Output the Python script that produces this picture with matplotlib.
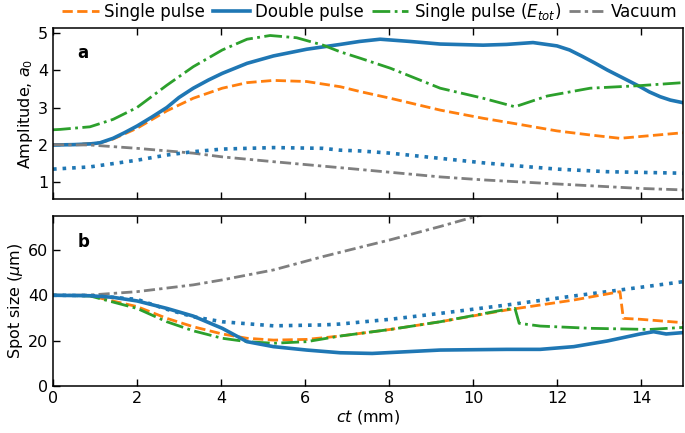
import matplotlib
matplotlib.use('Agg')
import matplotlib.pyplot as plt

# ---- panel a: amplitude a0 vs ct (mm) ----
x_dbl_a = [0, 0.5, 0.9, 1.12, 1.43, 1.7, 2.0, 2.35, 2.71, 3.0, 3.34, 3.7, 4.03, 4.62, 5.25,
           6.04, 6.84, 7.3, 7.79, 8.5, 9.22, 10.24, 10.8, 11.43, 12.0, 12.3, 12.6, 12.9,
           13.2, 13.6, 13.98, 14.2, 14.46, 14.7, 15.0]
y_dbl_a = [1.99, 2.0, 2.02, 2.05, 2.17, 2.32, 2.5, 2.74, 3.0, 3.27, 3.52, 3.74, 3.92, 4.19,
           4.39, 4.57, 4.70, 4.78, 4.84, 4.78, 4.71, 4.68, 4.70, 4.75, 4.66, 4.55, 4.38,
           4.2, 4.01, 3.78, 3.56, 3.42, 3.29, 3.2, 3.13]

x_sgl_a = [0, 0.5, 1.12, 1.43, 2.0, 2.71, 3.34, 4.03, 4.62, 5.25, 6.04, 6.84, 7.31,
           8.03, 9.22, 10.24, 11.03, 12.0, 12.79, 13.5, 15.0]
y_sgl_a = [2.0, 2.0, 2.05, 2.15, 2.44, 2.91, 3.25, 3.52, 3.67, 3.73, 3.70, 3.56, 3.43,
           3.25, 2.93, 2.71, 2.56, 2.37, 2.26, 2.17, 2.32]

x_etot_a = [0, 0.17, 0.88, 1.43, 2.0, 2.71, 3.34, 4.03, 4.62, 5.17, 5.8, 6.43, 6.84, 7.31,
            8.03, 9.22, 10.24, 11.0, 11.77, 12.79, 13.98, 15.0]
y_etot_a = [2.4, 2.41, 2.48, 2.68, 3.0, 3.6, 4.1, 4.55, 4.84, 4.94, 4.88, 4.68, 4.5, 4.33,
            4.06, 3.52, 3.25, 3.02, 3.31, 3.52, 3.59, 3.67]

x_dot_a = [0, 0.88, 2.0, 2.71, 3.34, 4.03, 5.25, 6.43, 6.84, 7.31, 8.03, 9.22, 10.24,
           11.03, 12.0, 13.2, 15.0]
y_dot_a = [1.34, 1.40, 1.58, 1.72, 1.81, 1.88, 1.92, 1.90, 1.85, 1.83, 1.77, 1.63, 1.51,
           1.43, 1.34, 1.27, 1.23]

x_vac_a = [0, 0.88, 2.0, 3.34, 4.03, 5.25, 6.43, 7.31, 9.22, 10.24, 12.0, 13.98, 15.0]
y_vac_a = [2.0, 1.99, 1.90, 1.77, 1.67, 1.54, 1.42, 1.33, 1.13, 1.05, 0.94, 0.82, 0.78]

# ---- panel b: spot size (um) vs ct (mm) ----
x_dbl_b = [0, 0.88, 1.43, 2.0, 2.71, 3.34, 4.03, 4.62, 5.25, 6.04, 6.84, 7.6, 9.22,
           10.8, 11.6, 12.4, 13.2, 13.98, 14.3, 14.6, 15.0]
y_dbl_b = [40, 39.8, 39.1, 37.5, 34.2, 30.8, 25.4, 19.5, 17.3, 15.8, 14.6, 14.3, 15.8,
           16.1, 16.1, 17.3, 19.8, 22.9, 23.9, 22.9, 23.5]

x_sgl_b = [0, 0.88, 2.0, 2.71, 3.34, 4.03, 4.62, 5.25, 6.04, 6.84, 8.03, 9.22, 10.8,
           12.4, 13.5, 13.58, 13.98, 15.0]
y_sgl_b = [40, 39.8, 35.0, 29.8, 26.1, 22.9, 21.0, 20.2, 20.5, 22.0, 24.9, 28.3, 33.5,
           37.9, 41.6, 29.8, 29.4, 27.9]

x_etot_b = [0, 0.88, 2.0, 2.71, 3.34, 4.03, 4.62, 5.25, 6.04, 6.84, 8.03, 9.22, 10.8,
            11.0, 11.1, 11.6, 12.8, 14.2, 15.0]
y_etot_b = [40, 39.7, 34.2, 28.3, 24.3, 21.0, 19.5, 18.8, 19.5, 22.0, 24.9, 28.3, 33.8,
            34.2, 27.6, 26.4, 25.4, 24.9, 25.8]

x_dot_b = [0, 0.88, 2.0, 2.71, 3.34, 4.03, 5.25, 6.43, 6.84, 8.03, 9.22, 10.8, 12.4,
           13.98, 15.0]
y_dot_b = [40, 39.9, 38.2, 33.8, 30.5, 28.3, 26.5, 26.9, 27.3, 29.4, 32.0, 35.7, 39.7,
           43.5, 46.0]

x_vac_b = [0, 0.88, 2.0, 3.34, 4.03, 5.25, 6.43, 7.31, 8.03, 9.22, 10.0, 10.5]
y_vac_b = [40, 40.1, 41.6, 44.6, 46.8, 51.2, 57.1, 61.2, 64.5, 70.4, 74.5, 77.0]

xticks = [0, 2, 4, 6, 8, 10, 12, 14]

c_orange = 'tab:orange'
c_blue = 'tab:blue'
c_green = 'tab:green'
c_gray = '#7f7f7f'
vac_dash = (0, (4, 1.5, 1.2, 1.5))

plt.rcParams['font.size'] = 11.5

fig = plt.figure(figsize=(6.85, 4.33), dpi=100)
ax1 = fig.add_axes([0.0774, 0.540, 0.9196, 0.396])
ax2 = fig.add_axes([0.0774, 0.109, 0.9196, 0.392])

l1, = ax1.plot(x_sgl_a, y_sgl_a, color=c_orange, ls='--', lw=2, label='Single pulse')
l2, = ax1.plot(x_dbl_a, y_dbl_a, color=c_blue, ls='-', lw=2.6, label='Double pulse')
l3, = ax1.plot(x_etot_a, y_etot_a, color=c_green, ls='-.', lw=2, label='Single pulse ($E_{tot}$)')
l4, = ax1.plot(x_vac_a, y_vac_a, color=c_gray, ls=vac_dash, lw=2, label='Vacuum')
ax1.plot(x_dot_a, y_dot_a, color=c_blue, ls=':', lw=2.6)

ax2.plot(x_vac_b, y_vac_b, color=c_gray, ls=vac_dash, lw=2)
ax2.plot(x_dot_b, y_dot_b, color=c_blue, ls=':', lw=2.6)
ax2.plot(x_sgl_b, y_sgl_b, color=c_orange, ls='--', lw=2)
ax2.plot(x_etot_b, y_etot_b, color=c_green, ls='-.', lw=2)
ax2.plot(x_dbl_b, y_dbl_b, color=c_blue, ls='-', lw=2.6)

ax1.set_xlim(0, 15)
ax1.set_ylim(0.53, 5.15)
ax1.set_yticks([1, 2, 3, 4, 5])
ax1.set_xticks(xticks)
ax1.set_xticklabels([])
ax1.set_ylabel('Amplitude, $a_0$', labelpad=2)
ax1.text(0.048, 0.855, 'a', transform=ax1.transAxes, fontweight='bold',
         ha='center', va='center', fontsize=12)

ax2.set_xlim(0, 15)
ax2.set_ylim(0, 75)
ax2.set_yticks([0, 20, 40, 60])
ax2.set_xticks(xticks)
ax2.set_xlabel('$ct$ (mm)', labelpad=2)
ax2.set_ylabel('Spot size ($\\mu$m)', labelpad=2)
ax2.text(0.048, 0.85, 'b', transform=ax2.transAxes, fontweight='bold',
         ha='center', va='center', fontsize=12)

for ax in (ax1, ax2):
    ax.tick_params(direction='in', top=True, length=5, width=1)
    for s in ax.spines.values():
        s.set_linewidth(1.1)

fig.legend(handles=[l1, l2, l3, l4], loc='center', bbox_to_anchor=(0.54, 0.972),
           ncol=4, frameon=False, columnspacing=0.45, handletextpad=0.35,
           handlelength=2.2, fontsize=12, borderpad=0.1)

fig.savefig('out.png', dpi=100)
